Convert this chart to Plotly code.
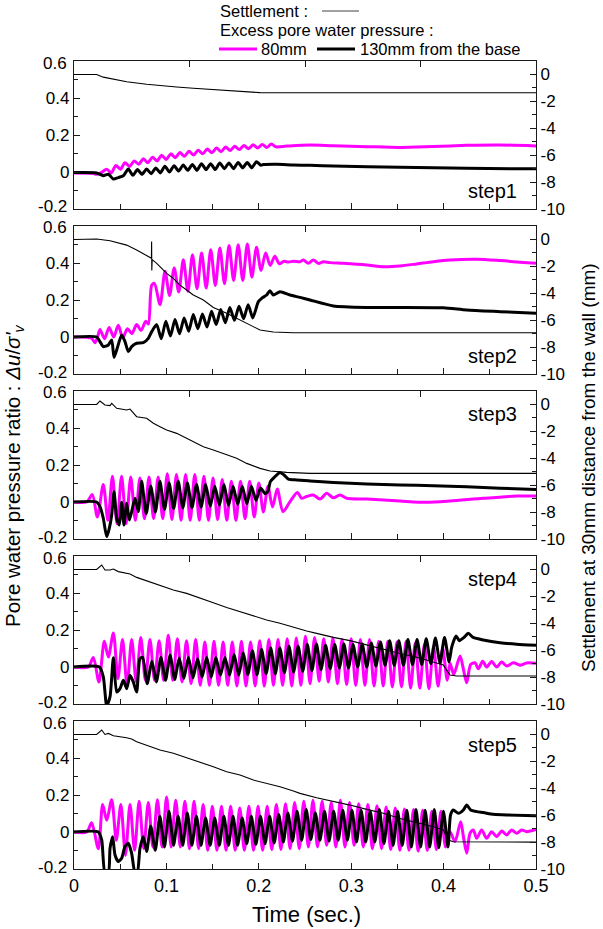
import plotly.graph_objects as go

PERIOD = 0.0099  # oscillation period (s)

# ---------------- step1 ----------------
s1_set_t = [0, 0.0245, 0.0317, 0.057, 0.0786, 0.0931, 0.1111, 0.1291, 0.1472, 0.1652, 0.1833, 0.2013, 0.5]
s1_set_v = [0, 0, -0.2, -0.54, -0.73, -0.84, -0.93, -1.03, -1.1, -1.18, -1.28, -1.35, -1.36]

s1_m_pre_t = [0, 0.02, 0.0245, 0.03]
s1_m_pre_v = [-0.005, -0.007, -0.012, -0.002]
s1_m_t0 = 0.0354
s1_m_pk = [0.015, 0.035, 0.05, 0.06, 0.072, 0.08, 0.09, 0.098, 0.105, 0.112, 0.118, 0.124, 0.13, 0.135, 0.139, 0.143, 0.147, 0.149, 0.151]
s1_m_tr = [-0.005, 0.015, 0.03, 0.042, 0.05, 0.06, 0.068, 0.077, 0.085, 0.092, 0.098, 0.104, 0.11, 0.116, 0.121, 0.126, 0.13, 0.133, 0.136]
s1_m_post_t = [0.2302, 0.2554, 0.2807, 0.3168, 0.3528, 0.3889, 0.425, 0.4611, 0.5]
s1_m_post_v = [0.14, 0.146, 0.142, 0.137, 0.133, 0.138, 0.144, 0.146, 0.141]

s1_b_pre_t = [0, 0.0245, 0.0317, 0.0372, 0.0426, 0.048, 0.0534]
s1_b_pre_v = [-0.003, -0.005, -0.02, -0.012, -0.038, -0.03, -0.02]
s1_b_t0 = 0.0588
s1_b_pk = [0.016, 0.013, 0.016, 0.022, 0.031, 0.034, 0.038, 0.041, 0.045, 0.045, 0.049, 0.049, 0.052, 0.052, 0.056]
s1_b_tr = [-0.018, -0.013, -0.009, -0.005, 0.0, 0.005, 0.009, 0.009, 0.013, 0.013, 0.018, 0.018, 0.023, 0.023, 0.036]
s1_b_post_t = [0.2049, 0.2193, 0.2374, 0.2554, 0.2807, 0.3528, 0.425, 0.5]
s1_b_post_v = [0.04, 0.042, 0.038, 0.036, 0.033, 0.025, 0.02, 0.017]

# ---------------- step2 ----------------
s2_set_t = [0, 0.0209, 0.0245, 0.039, 0.0498, 0.057, 0.0678, 0.0786, 0.0823, 0.0838, 0.0840, 0.0842, 0.0846, 0.0895,
            0.1003, 0.1075, 0.1147, 0.1219, 0.1291, 0.14, 0.1508, 0.1652, 0.176, 0.1869, 0.1941, 0.2013, 0.2157, 0.2374, 0.5]
s2_set_v = [0, 0, 0.03, -0.09, -0.3, -0.42, -0.78, -1.16, -1.33, -1.4, -0.15, -2.3, -1.5, -1.78,
            -2.52, -2.89, -3.39, -3.76, -4.13, -4.5, -5.05, -5.49, -5.86, -6.24, -6.48, -6.73, -6.88, -6.93, -6.93]

s2_m_pre_t = [0, 0.0191, 0.0227, 0.0255]
s2_m_pre_v = [0, -0.007, -0.031, 0.0]
s2_m_t0a = 0.0281
s2_m_pka = [0.040, 0.052, 0.063, 0.045, 0.067, 0.085]
s2_m_tra = [-0.009, 0.0, -0.005, 0.018, 0.036]
s2_m_mid_t = [0.0805, 0.0841, 0.0870, 0.0931]
s2_m_mid_v = [0.07, 0.28, 0.29, 0.175]
s2_m_t0b = 0.0985
s2_m_pkb = [0.355, 0.373, 0.418, 0.445, 0.454, 0.472, 0.481, 0.495, 0.499, 0.503, 0.485, 0.454, 0.436, 0.409]
s2_m_trb = [0.225, 0.243, 0.247, 0.261, 0.265, 0.279, 0.288, 0.306, 0.306, 0.324, 0.360, 0.387, 0.396, 0.405]
s2_m_post_t = [0.2374, 0.2446, 0.2482, 0.2536, 0.259, 0.2644, 0.2699, 0.2771, 0.2915, 0.3168, 0.3348, 0.3528,
               0.3709, 0.3889, 0.4069, 0.4358, 0.4611, 0.5]
s2_m_post_v = [0.41, 0.407, 0.416, 0.398, 0.416, 0.398, 0.407, 0.402, 0.398, 0.389, 0.38, 0.384,
               0.395, 0.407, 0.416, 0.42, 0.413, 0.398]

s2_b_pre_t = [0, 0.0245, 0.0281, 0.0317, 0.0372, 0.0408, 0.0433, 0.0462, 0.0516, 0.0552, 0.0588, 0.0624, 0.0678, 0.075, 0.0804, 0.0841]
s2_b_pre_v = [0, 0, -0.025, -0.052, -0.043, -0.016, -0.11, -0.07, 0.011, -0.025, -0.079, -0.052, -0.034, -0.031, -0.007, 0.029]
s2_b_t0 = 0.0895
s2_b_pk = [0.067, 0.085, 0.094, 0.103, 0.121, 0.124, 0.139, 0.148, 0.160, 0.166, 0.175]
s2_b_tr = [-0.009, 0.005, 0.018, 0.031, 0.045, 0.054, 0.067, 0.077, 0.09, 0.099, 0.103]
s2_b_post_t = [0.1995, 0.2031, 0.2085, 0.2121, 0.2157, 0.2229, 0.2338, 0.2446, 0.2554, 0.2807, 0.3168, 0.3528, 0.3997, 0.425, 0.4611, 0.5]
s2_b_post_v = [0.191, 0.209, 0.227, 0.25, 0.227, 0.245, 0.227, 0.214, 0.2, 0.168, 0.16, 0.16, 0.158, 0.146, 0.137, 0.128]

# ---------------- step3 ----------------
s3_set_t = [0, 0.0245, 0.0281, 0.0335, 0.039, 0.0408, 0.0462, 0.057, 0.0606, 0.0678, 0.0786, 0.0859, 0.0931, 0.1003,
            0.1111, 0.1219, 0.1291, 0.14, 0.1508, 0.1652, 0.176, 0.1869, 0.2013, 0.2121, 0.2302, 0.2554, 0.5]
s3_set_v = [0, 0, 0.26, -0.04, -0.09, 0.08, -0.29, -0.41, -0.34, -0.91, -1.03, -1.4, -1.65, -1.9,
            -2.15, -2.52, -2.77, -3.14, -3.39, -3.76, -4.0, -4.38, -4.75, -4.95, -5.05, -5.12, -5.12]

s3_m_pre_t = [0, 0.0137, 0.0198, 0.0253]
s3_m_pre_v = [0, 0, 0.04, -0.081]
s3_m_t0 = 0.0317
s3_m_pk = [0.094, 0.139, 0.139, 0.135, 0.130, 0.135, 0.135, 0.153, 0.148, 0.148, 0.148, 0.139, 0.130, 0.121, 0.112, 0.112, 0.112, 0.103, 0.085]
s3_m_tr = [-0.099, -0.117, -0.117, -0.099, -0.090, -0.090, -0.090, -0.095, -0.099, -0.099, -0.099, -0.099, -0.095, -0.099, -0.099, -0.090, -0.081, -0.054, -0.027]
s3_m_post_t = [0.2200, 0.2262, 0.2338, 0.2417, 0.2464, 0.2518, 0.259, 0.2662, 0.2735, 0.2807, 0.2879, 0.2951, 0.3168,
               0.3528, 0.3817, 0.4069, 0.443, 0.4791, 0.5]
s3_m_post_v = [0.07, -0.052, 0.002, 0.052, 0.02, 0.03, 0.038, 0.016, 0.047, 0.023, 0.038, 0.02, 0.016,
               0.005, -0.002, 0.005, 0.02, 0.032, 0.032]

s3_b_pre_t = [0, 0.0245, 0.0281, 0.0317, 0.0354, 0.0382, 0.0408, 0.0433, 0.0462, 0.0491, 0.0516, 0.0541, 0.057, 0.0599, 0.0624, 0.066, 0.0696]
s3_b_pre_v = [0, 0, -0.025, -0.088, -0.187, -0.142, -0.07, 0.056, -0.088, -0.124, -0.002, -0.124, -0.007, -0.097, -0.052, 0.02, -0.052]
s3_b_t0 = 0.0732
s3_b_pk = [0.112, 0.085, 0.112, 0.103, 0.112, 0.103, 0.094, 0.094, 0.085, 0.094, 0.085, 0.085, 0.085, 0.076]
s3_b_tr = [-0.063, -0.054, -0.041, -0.036, -0.031, -0.031, -0.027, -0.023, -0.018, -0.018, -0.013, -0.009, 0.009, 0.045]
s3_b_post_t = [0.2100, 0.2125, 0.2165, 0.2229, 0.2273, 0.232, 0.241, 0.2554, 0.2807, 0.3168, 0.3528, 0.3889, 0.425, 0.4611, 0.5]
s3_b_post_v = [0.06, 0.11, 0.132, 0.16, 0.146, 0.124, 0.119, 0.114, 0.106, 0.097, 0.092, 0.088, 0.083, 0.074, 0.068]

# ---------------- step4 ----------------
s4_set_t = [0, 0.0245, 0.03, 0.0335, 0.039, 0.0426, 0.048, 0.057, 0.0606, 0.0678, 0.0786, 0.0931, 0.1075, 0.1219,
            0.1364, 0.1508, 0.1652, 0.1797, 0.1941, 0.2085, 0.2229, 0.2374, 0.2518, 0.2626, 0.2807, 0.2987, 0.3168,
            0.3348, 0.3528, 0.3709, 0.3889, 0.3997, 0.4033, 0.4069, 0.4142, 0.5]
s4_set_v = [0, 0, 0.33, -0.04, -0.04, 0.03, -0.16, -0.29, -0.34, -0.59, -0.83, -1.16, -1.53, -1.78,
            -2.15, -2.47, -2.82, -3.14, -3.46, -3.76, -4.0, -4.3, -4.58, -4.75, -5.05, -5.29, -5.62,
            -5.94, -6.24, -6.53, -6.86, -7.1, -7.48, -7.85, -7.92, -7.92]

s4_m_pre_t = [0, 0.0155, 0.0209, 0.027, 0.0328, 0.0372]
s4_m_pre_v = [0, 0, 0.052, -0.081, 0.139, 0.054]
s4_m_t0 = 0.0426
s4_m_pk = [0.184, 0.148, 0.148, 0.160, 0.148, 0.142, 0.171, 0.153, 0.142, 0.148, 0.135, 0.139, 0.135, 0.135, 0.139,
           0.135, 0.142, 0.148, 0.148, 0.153, 0.157, 0.166, 0.160, 0.153, 0.157, 0.148, 0.153, 0.148, 0.148, 0.139,
           0.139, 0.135, 0.139, 0.130, 0.121, 0.112, 0.103]
s4_m_tr = [-0.063, -0.099, -0.081, -0.072, -0.072, -0.072, -0.072, -0.081, -0.090, -0.099, -0.099, -0.099, -0.099,
           -0.103, -0.103, -0.103, -0.103, -0.099, -0.099, -0.103, -0.099, -0.090, -0.077, -0.081, -0.090, -0.095,
           -0.099, -0.099, -0.103, -0.103, -0.108, -0.108, -0.114, -0.114, -0.117, -0.103, -0.072]
s4_m_post_t = [0.407, 0.411, 0.4178, 0.4214, 0.425, 0.4293, 0.434, 0.4376, 0.4423, 0.4466, 0.452, 0.4574, 0.4628,
               0.4683, 0.4755, 0.4827, 0.4899, 0.5]
s4_m_post_v = [0.02, -0.04, 0.06, -0.012, -0.085, 0.014, 0.023, -0.01, 0.031, 0.0, 0.03, 0.0, 0.027,
               0.005, 0.023, 0.01, 0.022, 0.02]

s4_b_pre_t = [0, 0.0275, 0.0317, 0.0354, 0.039, 0.0426, 0.0462, 0.0498, 0.0534, 0.057, 0.0606, 0.0642, 0.0678, 0.0714]
s4_b_pre_v = [0, 0, -0.052, -0.21, -0.16, 0.05, -0.135, -0.117, -0.072, -0.117, -0.045, -0.081, -0.135, 0.045]
s4_b_t0 = 0.0743
s4_b_pk = [0.052, 0.031, 0.052, 0.063, 0.049, 0.052, 0.045, 0.052, 0.052, 0.052, 0.067, 0.076, 0.088, 0.094, 0.103,
           0.103, 0.112, 0.112, 0.121, 0.124, 0.117, 0.121, 0.124, 0.121, 0.124, 0.130, 0.135, 0.142, 0.142, 0.148,
           0.148, 0.153, 0.157, 0.160]
s4_b_tr = [-0.090, -0.081, -0.072, -0.067, -0.063, -0.059, -0.054, -0.054, -0.045, -0.045, -0.045, -0.041, -0.041,
           -0.036, -0.036, -0.031, -0.027, -0.023, -0.020, -0.013, -0.009, -0.005, -0.005, 0.0, 0.0, 0.005, 0.009,
           0.009, 0.009, 0.013, 0.013, 0.018, 0.023, 0.027]
s4_b_post_t = [0.4085, 0.411, 0.4135, 0.417, 0.4221, 0.4268, 0.432, 0.443, 0.461, 0.479, 0.5]
s4_b_post_v = [0.101, 0.142, 0.168, 0.142, 0.16, 0.182, 0.16, 0.146, 0.131, 0.123, 0.117]

# ---------------- step5 ----------------
s5_set_t = [0, 0.0245, 0.03, 0.0335, 0.0372, 0.0426, 0.057, 0.0624, 0.0678, 0.0786, 0.0931, 0.1075, 0.1219, 0.1364,
            0.1508, 0.1652, 0.1797, 0.1941, 0.2085, 0.2229, 0.2374, 0.2446, 0.2626, 0.2807, 0.2987, 0.3168, 0.3348,
            0.3528, 0.3709, 0.3889, 0.3997, 0.4051, 0.4105, 0.5]
s5_set_v = [0, 0, 0.33, 0.0, 0.08, -0.09, -0.24, -0.34, -0.54, -0.78, -1.16, -1.4, -1.73, -2.02,
            -2.4, -2.77, -3.01, -3.39, -3.63, -3.88, -4.2, -4.38, -4.7, -4.95, -5.25, -5.57, -5.86,
            -6.24, -6.53, -6.86, -7.1, -7.85, -7.97, -8.0]

s5_m_pre_t = [0, 0.0137, 0.0191, 0.0263, 0.031, 0.0354]
s5_m_pre_v = [0, 0, 0.05, -0.09, 0.148, 0.063]
s5_m_t0 = 0.0408
s5_m_pk = [0.175, 0.148, 0.148, 0.166, 0.160, 0.175, 0.189, 0.171, 0.166, 0.166, 0.148, 0.139, 0.139, 0.139, 0.130,
           0.139, 0.139, 0.139, 0.148, 0.153, 0.160, 0.166, 0.171, 0.166, 0.160, 0.171, 0.160, 0.153, 0.148, 0.142,
           0.135, 0.130, 0.124, 0.121, 0.117, 0.112, 0.112]
s5_m_tr = [-0.045, -0.126, -0.099, -0.090, -0.081, -0.081, -0.081, -0.081, -0.090, -0.090, -0.099, -0.099, -0.099,
           -0.099, -0.099, -0.099, -0.099, -0.095, -0.095, -0.090, -0.090, -0.081, -0.081, -0.072, -0.081, -0.081,
           -0.072, -0.081, -0.090, -0.090, -0.095, -0.099, -0.099, -0.103, -0.099, -0.095, -0.081]
s5_m_post_t = [0.4069, 0.4123, 0.4185, 0.4214, 0.425, 0.4286, 0.4322, 0.4358, 0.4412, 0.4466, 0.452, 0.4574, 0.4629,
               0.4683, 0.4737, 0.4791, 0.4845, 0.4899, 0.5]
s5_m_post_v = [0.002, -0.052, 0.056, -0.025, -0.115, -0.007, 0.011, -0.034, 0.011, -0.034, 0.002, -0.025, 0.005,
               -0.016, 0.011, -0.007, 0.011, 0.002, 0.014]

s5_b_pre_t = [0, 0.0263, 0.03, 0.0335, 0.0372, 0.039, 0.0418, 0.0444, 0.048, 0.0516, 0.0552, 0.0588, 0.0624, 0.066, 0.0685, 0.0714, 0.075, 0.0786]
s5_b_pre_v = [0, 0, -0.043, -0.22, -0.22, -0.088, -0.025, -0.124, -0.16, -0.142, -0.079, -0.061, -0.115, -0.22, -0.22, -0.088, -0.025, -0.106]
s5_b_t0 = 0.083
s5_b_pk = [0.031, 0.085, 0.112, 0.085, 0.103, 0.085, 0.076, 0.076, 0.085, 0.085, 0.076, 0.085, 0.085, 0.085, 0.094,
           0.103, 0.112, 0.121, 0.103, 0.112, 0.112, 0.117, 0.117, 0.117, 0.112, 0.121, 0.112, 0.112, 0.117, 0.121,
           0.117, 0.121, 0.112]
s5_b_tr = [-0.099, -0.081, -0.072, -0.072, -0.072, -0.072, -0.072, -0.072, -0.072, -0.072, -0.063, -0.067, -0.063,
           -0.059, -0.054, -0.050, -0.045, -0.041, -0.045, -0.049, -0.045, -0.045, -0.054, -0.054, -0.054, -0.063,
           -0.072, -0.072, -0.081, -0.081, -0.081, -0.085, -0.081]
s5_b_post_t = [0.4075, 0.4105, 0.416, 0.4214, 0.425, 0.4293, 0.4358, 0.443, 0.4538, 0.4683, 0.5]
s5_b_post_v = [0.092, 0.119, 0.101, 0.119, 0.146, 0.119, 0.11, 0.105, 0.096, 0.092, 0.088]

step_labels = ["step1", "step2", "step3", "step4", "step5"]
x_ticks = [0, 0.1, 0.2, 0.3, 0.4, 0.5]
left_ticks = [-0.2, 0, 0.2, 0.4, 0.6]
left_ticktext = ["-0.2", "0", "0.2", "0.4", "0.6"]
right_ticks = [0, -2, -4, -6, -8, -10]
right_ticktext = ["0", "-2", "-4", "-6", "-8", "-10"]


def assemble(point_sets, osc_sets):
    pts = []
    for ts, vs in point_sets:
        pts += list(zip(ts, vs))
    for t0, pk, tr in osc_sets:
        pts += [(t0 + i * PERIOD, v) for i, v in enumerate(pk)]
        pts += [(t0 + (i + 0.5) * PERIOD, v) for i, v in enumerate(tr)]
    pts.sort()
    return [p[0] for p in pts], [p[1] for p in pts]


settle = [(s1_set_t, s1_set_v), (s2_set_t, s2_set_v), (s3_set_t, s3_set_v), (s4_set_t, s4_set_v), (s5_set_t, s5_set_v)]
magenta = [
    assemble([(s1_m_pre_t, s1_m_pre_v), (s1_m_post_t, s1_m_post_v)], [(s1_m_t0, s1_m_pk, s1_m_tr)]),
    assemble([(s2_m_pre_t, s2_m_pre_v), (s2_m_mid_t, s2_m_mid_v), (s2_m_post_t, s2_m_post_v)],
             [(s2_m_t0a, s2_m_pka, s2_m_tra), (s2_m_t0b, s2_m_pkb, s2_m_trb)]),
    assemble([(s3_m_pre_t, s3_m_pre_v), (s3_m_post_t, s3_m_post_v)], [(s3_m_t0, s3_m_pk, s3_m_tr)]),
    assemble([(s4_m_pre_t, s4_m_pre_v), (s4_m_post_t, s4_m_post_v)], [(s4_m_t0, s4_m_pk, s4_m_tr)]),
    assemble([(s5_m_pre_t, s5_m_pre_v), (s5_m_post_t, s5_m_post_v)], [(s5_m_t0, s5_m_pk, s5_m_tr)]),
]
black = [
    assemble([(s1_b_pre_t, s1_b_pre_v), (s1_b_post_t, s1_b_post_v)], [(s1_b_t0, s1_b_pk, s1_b_tr)]),
    assemble([(s2_b_pre_t, s2_b_pre_v), (s2_b_post_t, s2_b_post_v)], [(s2_b_t0, s2_b_pk, s2_b_tr)]),
    assemble([(s3_b_pre_t, s3_b_pre_v), (s3_b_post_t, s3_b_post_v)], [(s3_b_t0, s3_b_pk, s3_b_tr)]),
    assemble([(s4_b_pre_t, s4_b_pre_v), (s4_b_post_t, s4_b_post_v)], [(s4_b_t0, s4_b_pk, s4_b_tr)]),
    assemble([(s5_b_pre_t, s5_b_pre_v), (s5_b_post_t, s5_b_post_v)], [(s5_b_t0, s5_b_pk, s5_b_tr)]),
]

# ---------------- layout geometry (pixels) ----------------
W, H = 603, 929
ML, MR, MT, MB = 74, 67, 61, 60
PW, PH = W - ML - MR, H - MT - MB
PANEL_H, PANEL_STEP = 148, 165
FONT = "Liberation Sans, Arial, Helvetica, sans-serif"
MAGENTA = "#FF00FF"
TICKFONT = 17
LEGFONT = 16.5


def px(x):
    return (x - ML) / PW


def py(y):
    return 1 - (y - MT) / PH


fig = go.Figure()
layout = dict(
    width=W, height=H, margin=dict(l=ML, r=MR, t=MT, b=MB),
    paper_bgcolor="white", plot_bgcolor="white", showlegend=False,
    font=dict(family=FONT, size=18, color="black"),
)

axis_line = dict(showline=True, linecolor="#1a1a1a", linewidth=1.2, showgrid=False, zeroline=False)
annotations = []

for k in range(5):
    n = k + 1
    top = n + 5
    ytop = MT + PANEL_STEP * k
    dom = [py(ytop + PANEL_H), py(ytop)]
    xa = "x" if n == 1 else f"x{n}"
    ya = "y" if n == 1 else f"y{n}"
    layout["xaxis" if n == 1 else f"xaxis{n}"] = dict(
        axis_line, domain=[0, 1], anchor=ya, range=[0, 0.5],
        tickmode="array", tickvals=x_ticks, ticktext=[("0" if v == 0 else f"{v:g}") for v in x_ticks],
        ticks="inside", ticklen=6, tickwidth=1, tickcolor="#1a1a1a",
        minor=dict(tickmode="array", tickvals=[0.05, 0.15, 0.25, 0.35, 0.45], ticks="inside", ticklen=5, tickcolor="#1a1a1a"),
        showticklabels=(n == 5), tickfont=dict(size=18),
    )
    layout[f"xaxis{top}"] = dict(
        axis_line, overlaying=xa, anchor=ya, side="top", range=[0, 0.5],
        tickmode="array", tickvals=[0.125, 0.25, 0.375], ticks="inside", ticklen=6, tickcolor="#1a1a1a",
        showticklabels=False,
    )
    # inner labels on the axis; the end labels (0.6 / -0.2) drawn as nudged text so they don't collide
    layout["yaxis" if n == 1 else f"yaxis{n}"] = dict(
        axis_line, domain=dom, anchor=xa, range=[-0.2, 0.6],
        tickmode="array", tickvals=left_ticks[1:4], ticktext=left_ticktext[1:4],
        ticks="inside", ticklen=6, tickcolor="#1a1a1a",
        minor=dict(tickmode="array", tickvals=[-0.1, 0.1, 0.3, 0.5], ticks="inside", ticklen=4, tickcolor="#1a1a1a"),
        tickfont=dict(size=TICKFONT),
    )
    annotations.append(dict(text=left_ticktext[4], xref="paper", yref="paper", x=px(68), y=py(ytop + 2),
                            xanchor="right", yanchor="middle", showarrow=False, borderpad=0,
                            font=dict(size=TICKFONT)))
    annotations.append(dict(text=left_ticktext[0], xref="paper", yref="paper", x=px(68), y=py(ytop + PANEL_H - 2),
                            xanchor="right", yanchor="middle", showarrow=False, borderpad=0,
                            font=dict(size=TICKFONT)))
    layout[f"yaxis{top}"] = dict(
        axis_line, overlaying=ya, anchor=xa, side="right", range=[-10, 1],
        tickmode="array", tickvals=right_ticks, ticktext=right_ticktext,
        ticks="inside", ticklen=6, tickcolor="#1a1a1a",
        minor=dict(tickmode="array", tickvals=[-1, -3, -5, -7, -9], ticks="inside", ticklen=4, tickcolor="#1a1a1a"),
        tickfont=dict(size=TICKFONT),
    )

    # dummy trace so the top axis is drawn
    fig.add_trace(go.Scatter(x=[0], y=[-1], xaxis=f"x{top}", yaxis=ya, mode="markers",
                             marker=dict(opacity=0), hoverinfo="skip"))
    # settlement (right axis)
    fig.add_trace(go.Scatter(x=settle[k][0], y=settle[k][1], mode="lines", xaxis=xa, yaxis=f"y{top}",
                             line=dict(color="black", width=1.1)))
    # 80mm (magenta)
    fig.add_trace(go.Scatter(x=magenta[k][0], y=magenta[k][1], mode="lines", xaxis=xa, yaxis=ya,
                             line=dict(color=MAGENTA, width=3, shape="spline", smoothing=0.8)))
    # 130mm (black)
    fig.add_trace(go.Scatter(x=black[k][0], y=black[k][1], mode="lines", xaxis=xa, yaxis=ya,
                             line=dict(color="black", width=3, shape="spline", smoothing=0.6)))

step_pos_y = [191, 356, 414, 579, 745]
for k, lab in enumerate(step_labels):
    annotations.append(dict(text=lab, xref="paper", yref="paper", x=px(492), y=py(step_pos_y[k]),
                            xanchor="center", yanchor="middle", showarrow=False, font=dict(size=20)))

annotations += [
    dict(text="Pore water pressure ratio : <i>Δu</i>/<i>σ'<sub>v</sub></i>", xref="paper", yref="paper",
         x=px(14), y=py(476), textangle=-90, xanchor="center", yanchor="middle", showarrow=False, font=dict(size=20.5)),
    dict(text="Settlement at 30mm distance from the wall (mm)", xref="paper", yref="paper",
         x=px(588), y=py(468), textangle=-90, xanchor="center", yanchor="middle", showarrow=False, font=dict(size=19)),
    dict(text="Time (sec.)", xref="paper", yref="paper", x=px(306), y=py(914),
         xanchor="center", yanchor="middle", showarrow=False, font=dict(size=22)),
    dict(text="Settlement :", xref="paper", yref="paper", x=px(219), y=py(11),
         xanchor="left", yanchor="middle", showarrow=False, borderpad=0, font=dict(size=LEGFONT)),
    dict(text="Excess pore water pressure :", xref="paper", yref="paper", x=px(219), y=py(30),
         xanchor="left", yanchor="middle", showarrow=False, borderpad=0, font=dict(size=LEGFONT)),
    dict(text="80mm", xref="paper", yref="paper", x=px(260), y=py(49),
         xanchor="left", yanchor="middle", showarrow=False, borderpad=0, font=dict(size=LEGFONT)),
    dict(text="130mm from the base", xref="paper", yref="paper", x=px(359), y=py(49),
         xanchor="left", yanchor="middle", showarrow=False, borderpad=0, font=dict(size=LEGFONT)),
]
layout["annotations"] = annotations
layout["shapes"] = [
    dict(type="line", xref="paper", yref="paper", x0=px(322), x1=px(359), y0=py(11), y1=py(11),
         line=dict(color="#808080", width=1.5)),
    dict(type="line", xref="paper", yref="paper", x0=px(219), x1=px(257), y0=py(49), y1=py(49),
         line=dict(color=MAGENTA, width=3)),
    dict(type="line", xref="paper", yref="paper", x0=px(317), x1=px(355), y0=py(49), y1=py(49),
         line=dict(color="black", width=3)),
]

fig.update_layout(**layout)
fig.write_html("out.html", include_plotlyjs=True, config={"displayModeBar": False},
               post_script="document.body.style.margin='0px';document.body.style.overflow='hidden';")
